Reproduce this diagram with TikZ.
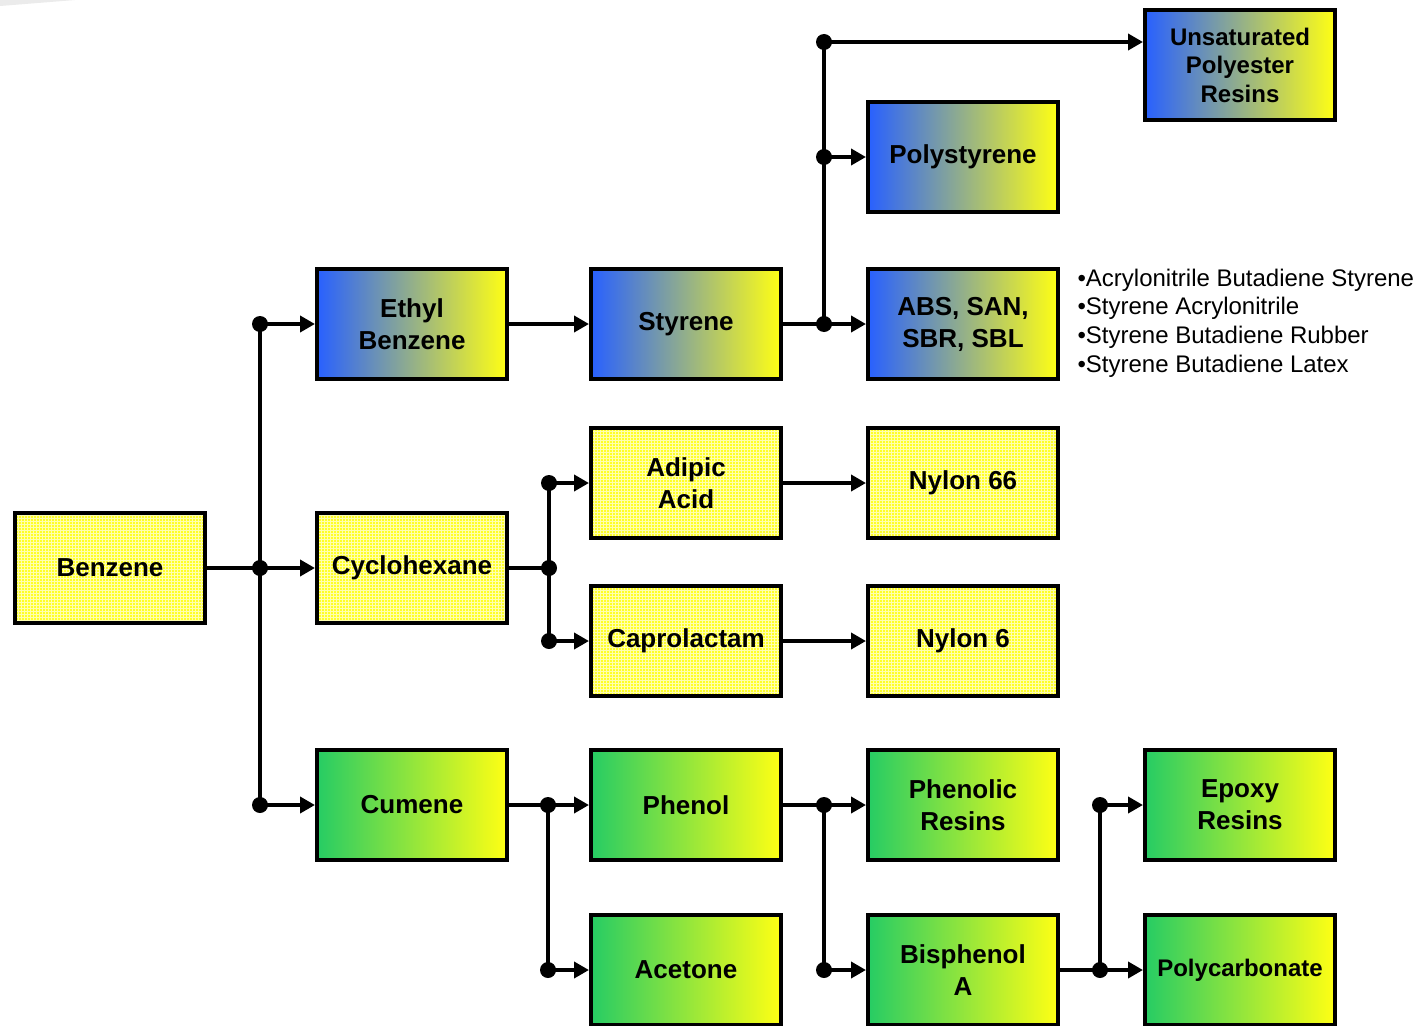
\documentclass[tikz,border=0pt]{standalone}
\usepackage{fontspec}
\setmainfont{Liberation Sans}
\usetikzlibrary{arrows.meta,patterns,calc}
\definecolor{bblue}{RGB}{40,96,255}
\definecolor{bgreen}{RGB}{38,204,100}
\definecolor{byel}{RGB}{255,255,20}
\definecolor{pyel}{RGB}{255,255,40}
\definecolor{pgrid}{RGB}{255,255,175}
\begin{document}
\begin{tikzpicture}[x=1pt,y=-1pt,
  box/.style={draw=black,line width=4pt,minimum width=190pt,minimum height=110pt,
    inner sep=0pt,align=center,font=\bfseries\fontsize{26}{32}\selectfont},
  yelbox/.style={box,preaction={fill=pyel},preaction={pattern=grid,pattern color=pgrid}},
  bluebox/.style={box,left color=bblue,right color=byel,shading angle=90},
  grnbox/.style={box,left color=bgreen,right color=byel},
  small/.style={font=\bfseries\fontsize{24}{28.5}\selectfont},
  ln/.style={line width=4pt},
  arr/.style={line width=4pt,-{Triangle[length=15pt,width=16pt]}},
  dot/.style={fill=black}]
\clip (0,0) rectangle (1421,1025);
\fill[white] (0,0) rectangle (1421,1025);
\fill[black!8] (0,0) -- (75,0) -- (0,6) -- cycle;

% nodes
\node[yelbox] (benz) at (110,568) {Benzene};
\node[bluebox] (eth) at (412,324) {Ethyl\\Benzene};
\node[yelbox] (cyc) at (412,568) {Cyclohexane};
\node[grnbox] (cum) at (412,805) {Cumene};
\node[bluebox] (sty) at (686,324) {Styrene};
\node[yelbox] (adi) at (686,483) {Adipic\\Acid};
\node[yelbox] (cap) at (686,641) {Caprolactam};
\node[grnbox] (phe) at (686,805) {Phenol};
\node[grnbox] (ace) at (686,970) {Acetone};
\node[bluebox,small] (ups) at (1240,65) {Unsaturated\\Polyester\\Resins};
\node[bluebox] (pst) at (963,157) {Polystyrene};
\node[bluebox] (abs) at (963,324) {ABS, SAN,\\SBR, SBL};
\node[yelbox] (n66) at (963,483) {Nylon 66};
\node[yelbox] (n6) at (963,641) {Nylon 6};
\node[grnbox] (phr) at (963,805) {Phenolic\\Resins};
\node[grnbox] (bis) at (963,970) {Bisphenol\\A};
\node[grnbox] (epo) at (1240,805) {Epoxy\\Resins};
\node[grnbox,small] (pc) at (1240,970) {Polycarbonate};

\node[anchor=west,align=left,font=\fontsize{24}{28.7}\selectfont] (lst) at (1074,323)
  {•Acrylonitrile Butadiene Styrene\\•Styrene Acrylonitrile\\•Styrene Butadiene Rubber\\•Styrene Butadiene Latex};

% junctions
\coordinate (jb) at (260,568);
\coordinate (jbe) at (260,324);
\coordinate (jbc) at (260,805);
\coordinate (js) at (824,324);
\coordinate (jsp) at (824,157);
\coordinate (jsu) at (824,42);
\coordinate (jc) at (549,568);
\coordinate (jca) at (549,483);
\coordinate (jcc) at (549,641);
\coordinate (jm) at (548,805);
\coordinate (jma) at (548,970);
\coordinate (jp) at (824,805);
\coordinate (jpb) at (824,970);
\coordinate (jq) at (1100,970);
\coordinate (jqe) at (1100,805);

% connectors
\draw[arr] (benz) -- (cyc);
\draw[ln] (jbe) -- (jbc);
\draw[arr] (jbe) -- (eth);
\draw[arr] (jbc) -- (cum);
\draw[arr] (eth) -- (sty);

\draw[arr] (sty) -- (abs);
\draw[ln] (js) -- (jsu);
\draw[arr] (jsp) -- (pst);
\draw[arr] (jsu) -- (jsu -| ups.west);

\draw[ln] (cyc) -- (jc);
\draw[ln] (jca) -- (jcc);
\draw[arr] (jca) -- (adi);
\draw[arr] (jcc) -- (cap);
\draw[arr] (adi) -- (n66);
\draw[arr] (cap) -- (n6);

\draw[arr] (cum) -- (phe);
\draw[ln] (jm) -- (jma);
\draw[arr] (jma) -- (ace);

\draw[arr] (phe) -- (phr);
\draw[ln] (jp) -- (jpb);
\draw[arr] (jpb) -- (bis);

\draw[arr] (bis) -- (pc);
\draw[ln] (jq) -- (jqe);
\draw[arr] (jqe) -- (epo);

% dots
\foreach \p in {jb,jbe,jbc,js,jsp,jsu,jc,jca,jcc,jm,jma,jp,jpb,jq,jqe}
  \fill[dot] (\p) circle (8pt);
\end{tikzpicture}
\end{document}
